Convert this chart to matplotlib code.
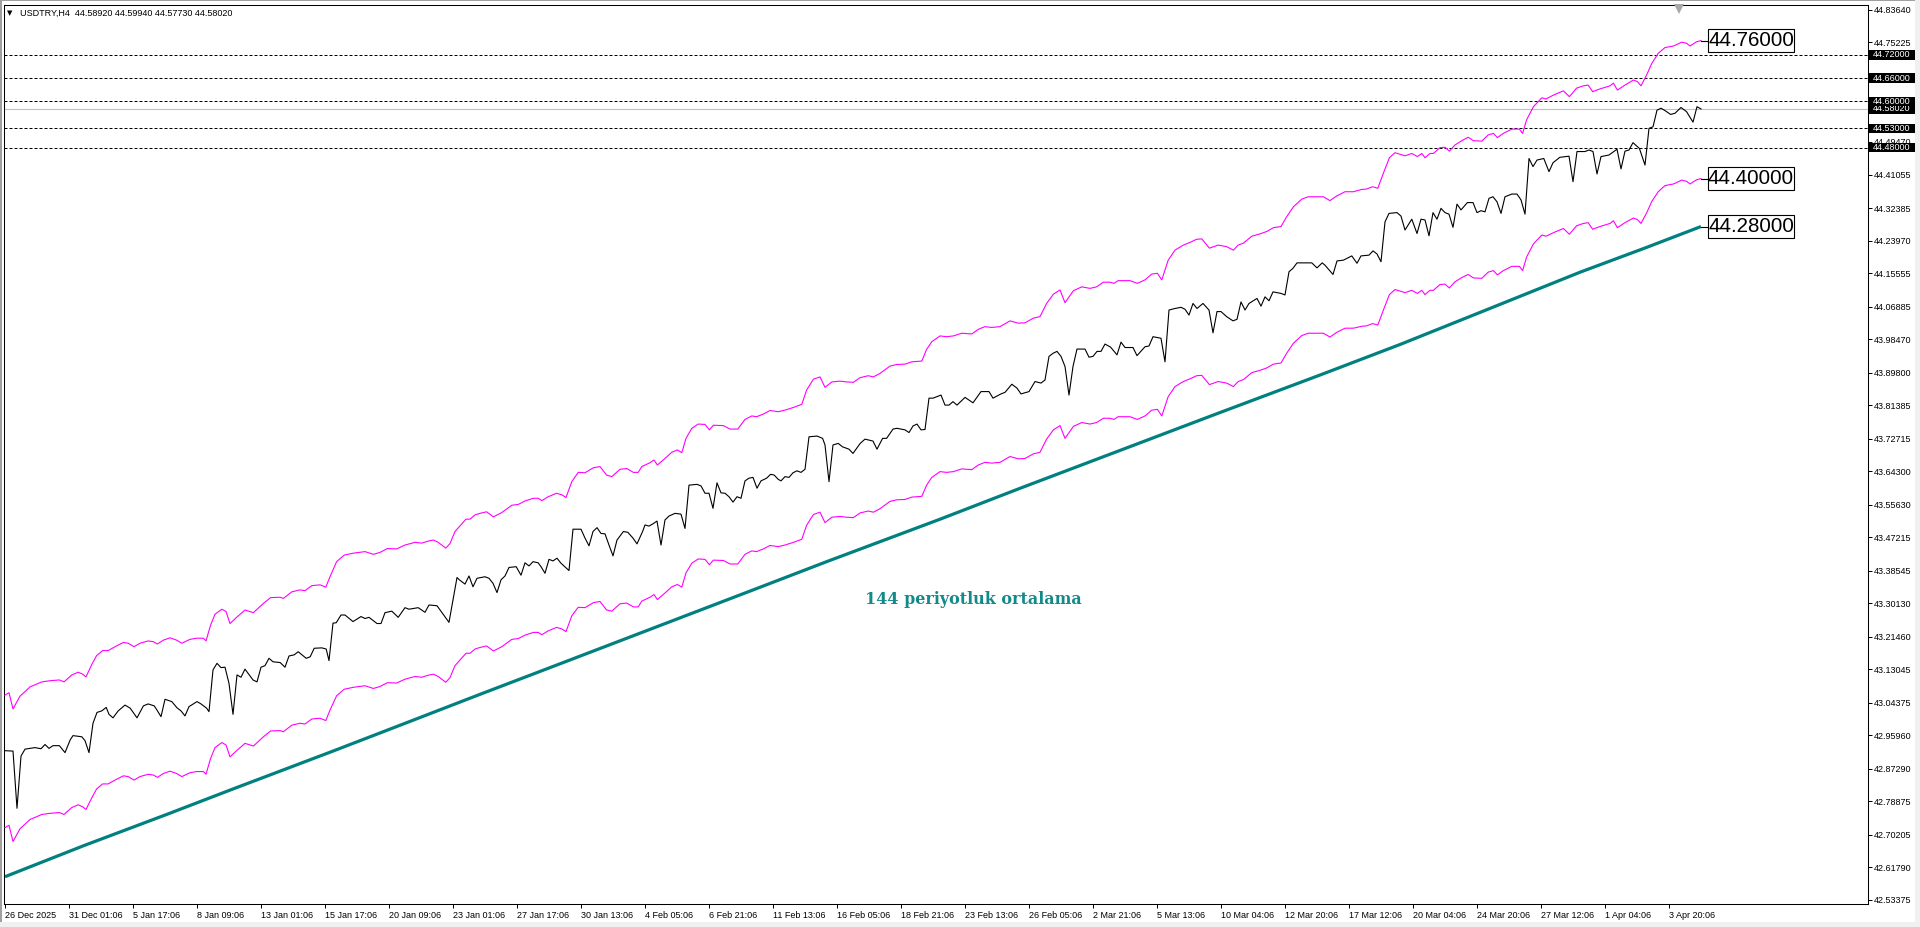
import matplotlib
matplotlib.use('Agg')
import matplotlib.pyplot as plt
import matplotlib.transforms as mtransforms
from matplotlib import font_manager
from matplotlib.patches import Rectangle

# ---- data (bar index, price) ----
price_x = [0, 2, 3, 4, 5, 7.5, 9, 10, 11, 12, 13.6, 15, 16.3, 17, 19.2, 20, 21, 22, 23, 24.2,
           25.3, 26, 27, 28.3, 30, 31.3, 33, 34.6, 35.8, 37.3, 38, 39, 40, 41.7, 43, 44, 45, 46, 48, 49,
           50.4, 51, 52, 53, 54, 55, 56, 57, 58, 59, 60, 62, 63, 64, 65, 66, 67, 68.8, 70, 71,
           72.3, 73.3, 75.3, 76.3, 77.3, 79.2, 80.3, 81, 82, 82.8, 84, 85, 87, 89, 90, 91, 93, 94, 95, 96.7,
           98.3, 100, 101, 103.3, 105, 106, 108, 111, 113, 113.6, 115, 116, 117, 118, 120, 121, 122, 123, 124, 125,
           126, 127.8, 129, 130, 131, 132, 133.3, 134, 135, 136, 137, 138, 139, 141, 142, 144, 145, 146, 147, 148,
           149, 150, 151, 152, 153, 154.6, 155.7, 157, 158, 159.4, 160, 161, 162, 163, 164, 165, 166, 167.5, 169, 170,
           171, 173, 174, 175, 176, 177, 178, 179, 180, 181, 182, 183, 184, 185, 186, 187, 188, 189, 190.4, 191.4,
           192.3, 193.3, 194, 195, 196, 197, 198, 199, 200, 201, 203, 204.4, 205, 206, 207, 208.3, 209.4, 211, 212, 213.8,
           215, 217, 218, 219.4, 220.4, 222, 223, 225, 226, 227, 228, 229, 230, 231, 232, 234, 235, 236, 237, 238,
           240, 242, 244, 246, 247, 249, 250, 251.7, 253, 254, 256, 257.5, 259, 260, 261, 262, 263, 264, 265, 266,
           267, 268, 270, 271, 272, 273, 274, 275, 276.4, 278, 279, 280, 282, 283, 285, 286, 287, 289, 290, 291,
           292.5, 294, 295, 296, 297, 298, 299.5, 301, 302, 303, 304, 305.4, 307, 308, 309, 310, 311, 313, 314, 315,
           316, 317, 319, 320, 321, 322, 323, 326.7, 328, 329.3, 330, 332, 333, 334.6, 336.7, 338, 339, 341, 342, 343,
           344, 345, 346, 348, 349, 350, 351.7, 353, 354, 355, 356, 357, 358, 359, 360, 361, 362, 363, 364, 365.6,
           367, 368, 369, 370, 371, 372, 373, 374, 375, 376.7, 378, 379, 380, 381, 382, 383, 384.7, 386, 387, 388.7,
           391, 392, 393, 395, 396, 397, 398, 399, 401, 403, 404, 405, 406, 407, 408.6, 410, 411, 412, 413, 414,
           415, 416.4, 417.5, 419, 420.4, 422, 423, 424]
price_y = [42.920, 42.919, 42.771, 42.906, 42.924, 42.928, 42.925, 42.936, 42.926, 42.933, 42.933, 42.915, 42.948, 42.959, 42.956, 42.946, 42.915, 42.991, 43.019, 43.023,
           43.032, 43.014, 43.005, 43.023, 43.038, 43.030, 43.005, 43.036, 43.041, 43.036, 43.025, 43.008, 43.053, 43.047, 43.031, 43.023, 43.010, 43.034, 43.047, 43.041,
           43.030, 43.021, 43.129, 43.146, 43.135, 43.136, 43.094, 43.014, 43.116, 43.110, 43.131, 43.103, 43.098, 43.136, 43.140, 43.159, 43.150, 43.148, 43.136, 43.165,
           43.168, 43.176, 43.159, 43.163, 43.185, 43.186, 43.183, 43.153, 43.250, 43.251, 43.271, 43.271, 43.254, 43.267, 43.262, 43.265, 43.249, 43.249, 43.277, 43.281,
           43.265, 43.290, 43.286, 43.290, 43.278, 43.297, 43.295, 43.252, 43.368, 43.362, 43.351, 43.372, 43.344, 43.366, 43.370, 43.366, 43.353, 43.329, 43.362, 43.372,
           43.394, 43.396, 43.374, 43.406, 43.398, 43.409, 43.406, 43.396, 43.379, 43.415, 43.411, 43.418, 43.405, 43.386, 43.493, 43.493, 43.470, 43.450, 43.487, 43.497,
           43.482, 43.481, 43.452, 43.424, 43.465, 43.487, 43.485, 43.470, 43.455, 43.487, 43.504, 43.501, 43.507, 43.514, 43.452, 43.517, 43.527, 43.534, 43.532, 43.495,
           43.607, 43.609, 43.605, 43.586, 43.586, 43.547, 43.613, 43.587, 43.586, 43.577, 43.563, 43.577, 43.573, 43.618, 43.625, 43.627, 43.599, 43.618, 43.625, 43.635,
           43.633, 43.622, 43.618, 43.629, 43.627, 43.639, 43.644, 43.640, 43.648, 43.732, 43.734, 43.728, 43.711, 43.616, 43.711, 43.715, 43.706, 43.700, 43.689, 43.715,
           43.726, 43.721, 43.700, 43.728, 43.728, 43.752, 43.754, 43.750, 43.743, 43.760, 43.765, 43.750, 43.751, 43.832, 43.832, 43.840, 43.814, 43.814, 43.823, 43.814,
           43.834, 43.820, 43.849, 43.849, 43.832, 43.843, 43.847, 43.868, 43.858, 43.843, 43.849, 43.875, 43.871, 43.879, 43.940, 43.948, 43.953, 43.940, 43.914, 43.840,
           43.914, 43.959, 43.959, 43.938, 43.940, 43.953, 43.953, 43.972, 43.964, 43.944, 43.977, 43.963, 43.963, 43.942, 43.965, 43.967, 43.991, 43.987, 43.926, 44.060,
           44.064, 44.067, 44.062, 44.047, 44.077, 44.064, 44.077, 44.060, 44.001, 44.056, 44.056, 44.043, 44.032, 44.036, 44.081, 44.060, 44.077, 44.090, 44.070, 44.094,
           44.084, 44.107, 44.103, 44.099, 44.159, 44.168, 44.182, 44.182, 44.169, 44.182, 44.176, 44.152, 44.187, 44.189, 44.200, 44.181, 44.200, 44.202, 44.213, 44.205,
           44.185, 44.288, 44.310, 44.312, 44.303, 44.267, 44.295, 44.258, 44.295, 44.293, 44.252, 44.312, 44.295, 44.323, 44.312, 44.308, 44.274, 44.334, 44.319, 44.338,
           44.338, 44.312, 44.317, 44.314, 44.349, 44.353, 44.340, 44.310, 44.353, 44.360, 44.360, 44.345, 44.308, 44.452, 44.431, 44.448, 44.452, 44.418, 44.441, 44.455,
           44.458, 44.392, 44.470, 44.470, 44.474, 44.470, 44.412, 44.457, 44.461, 44.476, 44.425, 44.471, 44.474, 44.493, 44.478, 44.435, 44.530, 44.534, 44.577, 44.582,
           44.576, 44.566, 44.569, 44.584, 44.573, 44.546, 44.586, 44.5802]

# envelope bands (upper / lower), same bar positions
env_x = [0, 1, 2, 3.75, 6.25, 9.2, 11.25, 13.6, 14.75, 16.7,
         18.3, 19.4, 20.25, 21.7, 22.9, 24.4, 25.8, 27.5, 29.6, 30.8,
         32.25, 33.75, 35.8, 37.1, 38.1, 39.6, 41.25, 42.9, 44.2, 46.25,
         47.9, 49.6, 50.25, 51.4, 52.5, 54.2, 55.25, 56.25, 57.9, 60,
         62.1, 64.6, 66.4, 68.75, 69.6, 71.7, 73.75, 75, 76.7, 78.75,
         80.2, 81.25, 82.9, 84.8, 87.1, 90, 92.1, 93.75, 95.6, 97.9,
         100, 102.5, 104.2, 105.7, 107.1, 108.3, 110.2, 111.25, 112.5, 114.2,
         115.25, 116.25, 117.5, 118.75, 120.4, 122.1, 124.2, 126.7, 128.3, 130,
         132.1, 133.3, 134.2, 135.8, 137.9, 139.2, 140.25, 141.7, 143.3, 145,
         147.1, 148.75, 150.4, 151.7, 153.75, 155.4, 157.1, 158.3, 159.2, 161.25,
         162.25, 163.1, 165, 166.7, 168.1, 169.2, 170.25, 171.7, 173.3, 175,
         176.1, 177.1, 179.6, 181.25, 183.2, 185, 186.7, 187.9, 189.6, 191.25,
         193.3, 195, 197.1, 199.2, 200.4, 202.1, 203.75, 205, 206.7, 208.75,
         210.4, 212.1, 213.75, 215.8, 217.1, 218.75, 221.25, 222.9, 225, 226.7,
         229.2, 230.4, 231.7, 233.75, 235.4, 237.1, 239.2, 241.7, 243.3, 245,
         246.7, 248.75, 251.25, 253.3, 255, 257.1, 258.75, 260.4, 262.1, 263.75,
         265, 267.1, 269.2, 271.25, 272.9, 274.6, 276.25, 277.25, 278.3, 281.25,
         283.1, 285, 286.7, 288.1, 289.2, 290.8, 292.5, 294.6, 296.25, 297.9,
         299.2, 301.1, 303.3, 305.4, 307.1, 308.3, 309.6, 311.7, 313.75, 315.4,
         317.1, 319, 320.4, 322.1, 324.2, 325.8, 328.3, 329.6, 331.25, 332.9,
         335, 337.1, 339.2, 340.4, 341.9, 343.2, 344.6, 346.1, 347.5, 348.75,
         350, 351.7, 353.1, 354.2, 355, 356.25, 357.1, 358.75, 360, 361.1,
         362.5, 364.2, 365.8, 367.1, 369.2, 370.8, 372.1, 373.1, 374.6, 376.7,
         378.6, 379.4, 380.4, 382.1, 384.2, 385.25, 387.1, 389.6, 391.1, 392.9,
         394.6, 395.8, 396.9, 398.75, 401.25, 402.1, 403.1, 405, 407.1, 408.1,
         409, 410.4, 411.7, 413.3, 415, 417.1, 419.2, 420.4, 421.25, 422.9, 424]
env_upper = [43.064, 43.070, 43.028, 43.061, 43.085, 43.098, 43.101, 43.103, 43.098, 43.116,
             43.123, 43.118, 43.111, 43.143, 43.166, 43.179, 43.179, 43.189, 43.200, 43.198,
             43.189, 43.198, 43.204, 43.202, 43.196, 43.206, 43.212, 43.206, 43.198, 43.208,
             43.211, 43.211, 43.204, 43.245, 43.273, 43.286, 43.280, 43.249, 43.265, 43.284,
             43.277, 43.301, 43.316, 43.317, 43.314, 43.331, 43.336, 43.334, 43.347, 43.349,
             43.343, 43.370, 43.409, 43.426, 43.431, 43.435, 43.428, 43.433, 43.443, 43.442,
             43.452, 43.459, 43.457, 43.462, 43.465, 43.459, 43.444, 43.456, 43.487, 43.507,
             43.519, 43.519, 43.530, 43.534, 43.538, 43.525, 43.536, 43.555, 43.557, 43.566,
             43.573, 43.573, 43.567, 43.577, 43.586, 43.582, 43.575, 43.616, 43.640, 43.639,
             43.652, 43.655, 43.633, 43.629, 43.648, 43.650, 43.640, 43.640, 43.655, 43.665,
             43.672, 43.659, 43.676, 43.692, 43.698, 43.691, 43.728, 43.754, 43.765, 43.764,
             43.750, 43.762, 43.761, 43.752, 43.752, 43.777, 43.786, 43.784, 43.791, 43.800,
             43.797, 43.801, 43.808, 43.816, 43.853, 43.881, 43.887, 43.860, 43.874, 43.876,
             43.874, 43.873, 43.885, 43.890, 43.887, 43.896, 43.915, 43.919, 43.920, 43.926,
             43.928, 43.958, 43.978, 43.993, 43.991, 43.993, 44.000, 43.998, 44.010, 44.017,
             44.015, 44.017, 44.032, 44.026, 44.027, 44.039, 44.043, 44.077, 44.101, 44.112,
             44.079, 44.110, 44.120, 44.116, 44.120, 44.132, 44.132, 44.129, 44.136, 44.136,
             44.129, 44.138, 44.153, 44.155, 44.138, 44.189, 44.215, 44.228, 44.235, 44.243,
             44.244, 44.220, 44.228, 44.224, 44.215, 44.228, 44.233, 44.251, 44.257, 44.263,
             44.273, 44.276, 44.301, 44.327, 44.347, 44.353, 44.353, 44.353, 44.343, 44.355,
             44.366, 44.366, 44.372, 44.373, 44.379, 44.375, 44.414, 44.454, 44.467, 44.463,
             44.459, 44.465, 44.457, 44.465, 44.454, 44.465, 44.465, 44.480, 44.481, 44.471,
             44.487, 44.498, 44.507, 44.498, 44.497, 44.513, 44.517, 44.506, 44.517, 44.528,
             44.528, 44.517, 44.552, 44.586, 44.609, 44.606, 44.616, 44.627, 44.612, 44.634,
             44.640, 44.642, 44.625, 44.632, 44.640, 44.647, 44.629, 44.642, 44.655, 44.651,
             44.640, 44.668, 44.698, 44.724, 44.739, 44.743, 44.753, 44.750, 44.743, 44.754, 44.757]
env_lower = [42.721, 42.727, 42.685, 42.718, 42.742, 42.755, 42.758, 42.760, 42.755, 42.773,
             42.780, 42.775, 42.768, 42.798, 42.821, 42.834, 42.834, 42.844, 42.855, 42.853,
             42.844, 42.853, 42.859, 42.857, 42.851, 42.861, 42.867, 42.861, 42.853, 42.863,
             42.866, 42.866, 42.859, 42.900, 42.928, 42.941, 42.935, 42.904, 42.920, 42.939,
             42.932, 42.956, 42.971, 42.972, 42.969, 42.986, 42.991, 42.989, 43.002, 43.004,
             42.998, 43.025, 43.062, 43.079, 43.084, 43.088, 43.081, 43.086, 43.096, 43.095,
             43.105, 43.112, 43.110, 43.115, 43.118, 43.112, 43.097, 43.109, 43.140, 43.160,
             43.172, 43.172, 43.183, 43.187, 43.191, 43.178, 43.189, 43.208, 43.210, 43.219,
             43.226, 43.226, 43.220, 43.230, 43.239, 43.235, 43.228, 43.269, 43.291, 43.290,
             43.303, 43.306, 43.284, 43.281, 43.300, 43.302, 43.292, 43.292, 43.307, 43.317,
             43.324, 43.311, 43.328, 43.344, 43.350, 43.343, 43.380, 43.405, 43.416, 43.415,
             43.401, 43.413, 43.412, 43.403, 43.403, 43.428, 43.437, 43.435, 43.442, 43.451,
             43.448, 43.452, 43.459, 43.467, 43.503, 43.531, 43.537, 43.510, 43.524, 43.526,
             43.524, 43.523, 43.535, 43.540, 43.537, 43.546, 43.565, 43.569, 43.570, 43.576,
             43.578, 43.607, 43.627, 43.642, 43.640, 43.642, 43.649, 43.647, 43.659, 43.666,
             43.664, 43.666, 43.681, 43.675, 43.676, 43.688, 43.692, 43.726, 43.750, 43.761,
             43.728, 43.759, 43.769, 43.765, 43.769, 43.780, 43.780, 43.777, 43.784, 43.784,
             43.777, 43.786, 43.801, 43.803, 43.786, 43.836, 43.862, 43.875, 43.882, 43.890,
             43.891, 43.867, 43.875, 43.871, 43.862, 43.875, 43.880, 43.898, 43.904, 43.910,
             43.920, 43.923, 43.948, 43.974, 43.994, 44.000, 44.000, 44.000, 43.990, 44.002,
             44.013, 44.013, 44.018, 44.019, 44.025, 44.021, 44.060, 44.100, 44.113, 44.109,
             44.105, 44.111, 44.103, 44.111, 44.100, 44.111, 44.111, 44.126, 44.127, 44.117,
             44.133, 44.144, 44.152, 44.143, 44.142, 44.158, 44.162, 44.151, 44.162, 44.173,
             44.173, 44.162, 44.197, 44.231, 44.254, 44.251, 44.260, 44.271, 44.256, 44.278,
             44.284, 44.286, 44.269, 44.276, 44.284, 44.291, 44.273, 44.286, 44.298, 44.294,
             44.284, 44.311, 44.341, 44.366, 44.382, 44.386, 44.396, 44.393, 44.386, 44.397, 44.400]

# 144-period moving average
ma_x = [0, 19.6, 40.4, 57, 82, 98.8, 118.8, 138.8, 163.8, 188.8, 205.4,
        233.8, 253.8, 278.8, 303.8, 328.8, 348.8, 368.8, 393.8, 410.4, 424]
ma_y = [42.594, 42.674, 42.755, 42.821, 42.919, 42.986, 43.066, 43.145, 43.244, 43.343, 43.409,
        43.519, 43.599, 43.697, 43.795, 43.892, 43.971, 44.054, 44.158, 44.222, 44.276]

levels = [44.72, 44.66, 44.60, 44.53, 44.48]
last_price = 44.5802
tags = [(44.757, '44.76000'), (44.400, '44.40000'), (44.276, '44.28000')]

ytick_vals = [44.83640, 44.75225, 44.66555, 44.58140, 44.49470, 44.41055, 44.32385, 44.23970,
              44.15555, 44.06885, 43.98470, 43.89800, 43.81385, 43.72715, 43.64300, 43.55630,
              43.47215, 43.38545, 43.30130, 43.21460, 43.13045, 43.04375, 42.95960, 42.87290,
              42.78875, 42.70205, 42.61790, 42.53375]
xtick_pos = [0, 16, 32, 48, 64, 80, 96, 112, 128, 144, 160, 176, 192, 208,
             224, 240, 256, 272, 288, 304, 320, 336, 352, 368, 384, 400, 416]
xtick_labels = ['26 Dec 2025', '31 Dec 01:06', '5 Jan 17:06', '8 Jan 09:06', '13 Jan 01:06',
                '15 Jan 17:06', '20 Jan 09:06', '23 Jan 01:06', '27 Jan 17:06', '30 Jan 13:06',
                '4 Feb 05:06', '6 Feb 21:06', '11 Feb 13:06', '16 Feb 05:06', '18 Feb 21:06',
                '23 Feb 13:06', '26 Feb 05:06', '2 Mar 21:06', '5 Mar 13:06', '10 Mar 04:06',
                '12 Mar 20:06', '17 Mar 12:06', '20 Mar 04:06', '24 Mar 20:06', '27 Mar 12:06',
                '1 Apr 04:06', '3 Apr 20:06']

# ---- figure ----
plt.rcParams['font.family'] = 'Liberation Sans'
W, H = 1920, 927
fig = plt.figure(figsize=(W / 100, H / 100), dpi=100, facecolor='white')
ax = fig.add_axes([4 / W, (H - 904) / H, (1868 - 4) / W, (904 - 5) / H])
ax.set_facecolor('white')

y_lo, y_hi = 42.5234, 44.8491
ax.set_xlim(-0.25, 465.75)
ax.set_ylim(y_lo, y_hi)
ypx = (y_hi - y_lo) / 899.0   # data units per pixel
axw = 1864.0

for lv in levels:
    ax.axhline(lv, color='black', lw=0.72, linestyle=(0, (3, 2)), zorder=1)
ax.axhline(last_price, color='#c0c0c0', lw=0.8, zorder=1)

ax.plot(ma_x, ma_y, color='#008080', lw=2.3, zorder=2, solid_capstyle='butt')
ax.plot(env_x, env_upper, color='#ff00ff', lw=0.8, zorder=3)
ax.plot(env_x, env_lower, color='#ff00ff', lw=0.8, zorder=3)
ax.plot(price_x, price_y, color='black', lw=0.8, zorder=4)

# axis styling
for sp in ax.spines.values():
    sp.set_color('black')
    sp.set_linewidth(0.75)
ax.yaxis.tick_right()
ax.set_yticks(ytick_vals)
ax.set_yticklabels([f'{v:.5f}' for v in ytick_vals])
ax.set_xticks(xtick_pos)
ax.set_xticklabels(xtick_labels, ha='left')
ax.tick_params(axis='y', direction='out', length=3, width=0.72, pad=1.5,
               labelsize=6.5, colors='black')
ax.tick_params(axis='x', direction='out', length=3, width=0.72, pad=2,
               labelsize=6.5, colors='black')

trans_r = mtransforms.blended_transform_factory(ax.transAxes, ax.transData)


def price_box(v, z):
    ax.add_patch(Rectangle((1.0, v - 4.7 * ypx), 47 / axw, 9.4 * ypx, transform=trans_r,
                           facecolor='black', edgecolor='none', clip_on=False, zorder=z))
    ax.text(1.0 + 5 / axw, v, f'{v:.5f}', transform=trans_r, color='white', fontsize=6.5,
            ha='left', va='center', clip_on=False, zorder=z + 0.1)


price_box(last_price, 6)
for k, lv in enumerate(levels):
    price_box(lv, 7 + k * 0.2)

# big boxed tags at line ends
names = {f.name for f in font_manager.fontManager.ttflist}
if 'Liberation Sans Narrow' in names:
    tag_font, tag_size = 'Liberation Sans Narrow', 17
else:
    tag_font, tag_size = 'Liberation Sans', 14.8
x_end = price_x[-1]
for v, txt in tags:
    ax.plot([x_end, x_end + 1.75], [v, v], color='black', lw=0.8, clip_on=False, zorder=5)
    ax.add_patch(Rectangle((x_end + 1.75, v - 11.5 * ypx), 21.5, 23 * ypx,
                           facecolor='white', edgecolor='black', lw=0.8, clip_on=False, zorder=5))
    ax.text(x_end + 1.75 + 10.75, v, txt, family=tag_font, fontsize=tag_size, color='black',
            ha='center', va='center', zorder=6, clip_on=False)

ax.text(215, 43.310, '144 periyotluk ortalama', family='DejaVu Serif', fontweight='bold',
        fontsize=11.5, color='#138a8a', ha='left', va='center', zorder=6)

# chart shift marker
trans_t = mtransforms.blended_transform_factory(ax.transData, ax.transAxes)
ax.plot([418.5], [1 - 3.5 / 899], marker='v', ms=7, color='#a8a8a8', mew=0,
        transform=trans_t, clip_on=False, zorder=6)

# header
fig.text(7 / W, 1 - 13 / H, '\u25bc', family='DejaVu Sans', fontsize=5, va='center', ha='left')
fig.text(20 / W, 1 - 13 / H, 'USDTRY,H4  44.58920 44.59940 44.57730 44.58020',
         fontsize=6.5, va='center', ha='left')

# window frame strips
fig.patches.append(Rectangle((0, 0), 2 / W, 1, transform=fig.transFigure,
                             facecolor='#a0a0a0', edgecolor='none'))
fig.patches.append(Rectangle((0, 1 - 1 / H), 1, 1 / H, transform=fig.transFigure,
                             facecolor='#a0a0a0', edgecolor='none'))
fig.patches.append(Rectangle((1915 / W, 0), 5 / W, 1, transform=fig.transFigure,
                             facecolor='#f0f0f0', edgecolor='none'))
fig.patches.append(Rectangle((0, 0), 1, 5 / H, transform=fig.transFigure,
                             facecolor='#f0f0f0', edgecolor='none'))

fig.savefig('out.png', dpi=100, facecolor='white')
